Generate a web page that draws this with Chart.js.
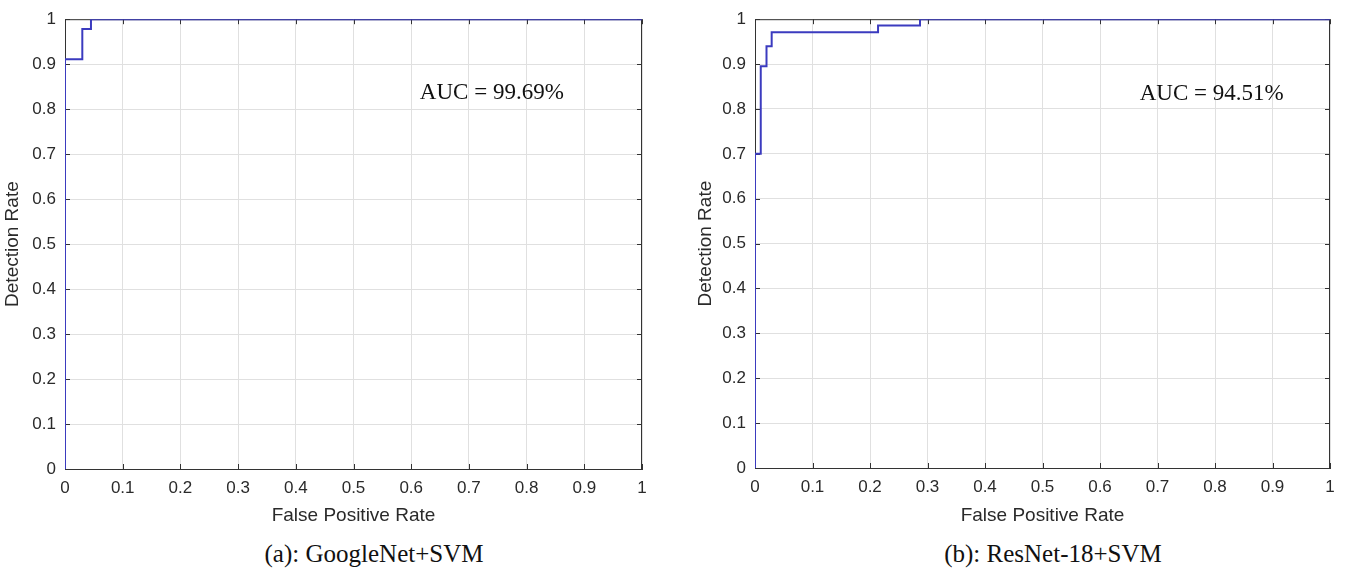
<!DOCTYPE html>
<html>
<head>
<meta charset="utf-8">
<title>ROC curves</title>
<script src="https://cdn.jsdelivr.net/npm/chart.js@4.4.1/dist/chart.umd.min.js"></script>
<style>
  html, body { margin: 0; padding: 0; background: #fff; }
  #wrap { position: relative; width: 1346px; height: 568px; overflow: hidden; }
  #wrap canvas { position: absolute; top: 0; }
  .cap {
    position: absolute; top: 541px; line-height: 25px;
    font-family: "Liberation Serif", "Times New Roman", serif; font-size: 25px;
    color: #111; white-space: nowrap; transform: translateX(-50%);
  }
</style>
</head>
<body>
<div id="wrap">
  <canvas id="rocA" width="673" height="530" style="left:0"></canvas>
  <canvas id="rocB" width="673" height="530" style="left:673px"></canvas>
  <div class="cap" id="capA" style="left:374px"></div>
  <div class="cap" id="capB" style="left:1053px"></div>
</div>
<script>
// ROC vertices (false positive rate, detection rate); steps run horizontal first
const fprGoogleNet = [0, 0, 0.030, 0.045, 1];
const tprGoogleNet = [0, 0.911, 0.978, 1, 1];

const fprResNet = [0, 0, 0.010, 0.020, 0.029, 0.214, 0.287, 1];
const tprResNet = [0, 0.700, 0.895, 0.940, 0.971, 0.986, 1, 1];

// shared tick labels for both axes
const tickLabels = ['0', '0.1', '0.2', '0.3', '0.4', '0.5', '0.6', '0.7', '0.8', '0.9', '1'];

const aucTexts = ['AUC = 99.69%', 'AUC = 94.51%'];
const captions = ['(a): GoogleNet+SVM', '(b): ResNet-18+SVM'];
const xTitle = 'False Positive Rate';
const yTitle = 'Detection Rate';

document.getElementById('capA').textContent = captions[0];
document.getElementById('capB').textContent = captions[1];

const SANS = '"Liberation Sans", Arial, Helvetica, sans-serif';
const AXIS_COLOR = '#333333';
const TEXT_COLOR = '#2a2a2a';
const GRID_COLOR = '#e0e0e0';
const LINE_COLOR = '#3b3bbf';

// Box around the plot with short inward tick marks on all four sides
const frameBox = {
  id: 'frameBox',
  beforeDatasetsDraw(chart) {
    const { ctx, chartArea: a, scales: { x, y } } = chart;
    ctx.save();
    ctx.strokeStyle = AXIS_COLOR;
    ctx.lineWidth = 1;
    ctx.beginPath();
    ctx.moveTo(a.left, a.top + 0.5);
    ctx.lineTo(a.right, a.top + 0.5);
    ctx.moveTo(a.right - 0.5, a.top);
    ctx.lineTo(a.right - 0.5, a.bottom);
    const len = 5;
    x.ticks.forEach(t => {
      const px = Math.round(x.getPixelForValue(t.value)) + 0.5;
      ctx.moveTo(px, a.bottom); ctx.lineTo(px, a.bottom - len);
      ctx.moveTo(px, a.top); ctx.lineTo(px, a.top + len);
    });
    y.ticks.forEach(t => {
      const py = Math.round(y.getPixelForValue(t.value)) + 0.5;
      ctx.moveTo(a.left, py); ctx.lineTo(a.left + len, py);
      ctx.moveTo(a.right, py); ctx.lineTo(a.right - len, py);
    });
    ctx.stroke();
    ctx.restore();
  }
};

// AUC annotation anchored in data coordinates
const aucLabel = {
  id: 'aucLabel',
  afterDatasetsDraw(chart, args, opts) {
    const { ctx, scales: { x, y } } = chart;
    ctx.save();
    ctx.font = '23px "Liberation Serif", "Times New Roman", serif';
    ctx.fillStyle = '#111';
    ctx.textAlign = 'left';
    ctx.textBaseline = 'alphabetic';
    ctx.fillText(opts.text, x.getPixelForValue(opts.at[0]), y.getPixelForValue(opts.at[1]));
    ctx.restore();
  }
};

function rocChart(canvasId, fpr, tpr, aucText, aucAt, box) {
  const points = fpr.map((v, i) => ({ x: v, y: tpr[i] }));
  const tickFont = { family: SANS, size: 17 };
  const titleFont = { family: SANS, size: 19 };
  return new Chart(document.getElementById(canvasId), {
    type: 'line',
    data: {
      datasets: [{
        data: points,
        borderColor: LINE_COLOR,
        borderWidth: 2,
        pointRadius: 0,
        tension: 0,
        stepped: 'before',
        fill: false
      }]
    },
    options: {
      responsive: false,
      animation: false,
      events: [],
      layout: { padding: box.padding },
      plugins: {
        legend: { display: false },
        tooltip: { enabled: false },
        aucLabel: { text: aucText, at: aucAt }
      },
      scales: {
        x: {
          type: 'linear', min: 0, max: 1,
          ticks: {
            stepSize: 0.1, font: tickFont, color: TEXT_COLOR, padding: 9, maxRotation: 0,
            callback: (v, i) => tickLabels[i]
          },
          grid: { color: GRID_COLOR, lineWidth: 1, drawTicks: false },
          border: { display: true, color: AXIS_COLOR, width: 1 },
          title: { display: true, text: xTitle, font: titleFont, color: TEXT_COLOR, padding: { top: 0, bottom: 3 } },
          afterFit: s => { s.height = box.xHeight; }
        },
        y: {
          type: 'linear', min: 0, max: 1,
          ticks: {
            stepSize: 0.1, font: tickFont, color: TEXT_COLOR, padding: 9,
            callback: (v, i) => tickLabels[i]
          },
          grid: { color: GRID_COLOR, lineWidth: 1, drawTicks: false },
          border: { display: true, color: AXIS_COLOR, width: 1 },
          title: { display: true, text: yTitle, font: titleFont, color: TEXT_COLOR, padding: { top: 1, bottom: 0 } },
          afterFit: s => { s.width = box.yWidth; }
        }
      }
    },
    plugins: [frameBox, aucLabel]
  });
}

rocChart('rocA', fprGoogleNet, tprGoogleNet, aucTexts[0], [0.615, 0.822],
  { padding: { left: 0, top: 16, right: 31, bottom: 0 }, yWidth: 65, xHeight: 61 });
rocChart('rocB', fprResNet, tprResNet, aucTexts[1], [0.669, 0.819],
  { padding: { left: 20, top: 15, right: 16, bottom: 0 }, yWidth: 62, xHeight: 62 });
</script>
</body>
</html>
